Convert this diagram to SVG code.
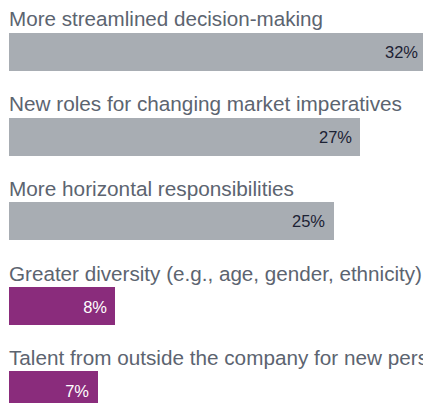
<svg xmlns="http://www.w3.org/2000/svg" width="423" height="403" viewBox="0 0 423 403">
<style>
.lbl{font-family:"Liberation Sans",Arial,sans-serif;font-size:20.5px;fill:#5c6470}
.pct{font-family:"Liberation Sans",Arial,sans-serif;font-size:16.5px;text-anchor:end}
.dk{fill:#1c2234}
.wt{fill:#ffffff}
.gray{fill:#a8adb3}
.purple{fill:#8a2c7c}
</style>
<rect width="423" height="403" fill="#ffffff"/>
<g id="row1">
<text class="lbl" x="9" y="26" textLength="314" lengthAdjust="spacingAndGlyphs">More streamlined decision-making</text>
<rect class="gray" x="9" y="33" width="414" height="38"/>
<text class="pct dk" x="418" y="58">32%</text>
</g>
<g id="row2">
<text class="lbl" x="9" y="111" textLength="393" lengthAdjust="spacingAndGlyphs">New roles for changing market imperatives</text>
<rect class="gray" x="9" y="118" width="351" height="38"/>
<text class="pct dk" x="352" y="143">27%</text>
</g>
<g id="row3">
<text class="lbl" x="9" y="196" textLength="285" lengthAdjust="spacingAndGlyphs">More horizontal responsibilities</text>
<rect class="gray" x="9" y="202" width="325" height="38"/>
<text class="pct dk" x="325" y="227">25%</text>
</g>
<g id="row4">
<text class="lbl" x="9" y="281" textLength="413" lengthAdjust="spacingAndGlyphs">Greater diversity (e.g., age, gender, ethnicity)</text>
<rect class="purple" x="9" y="287" width="106" height="38"/>
<text class="pct wt" x="107" y="313">8%</text>
</g>
<g id="row5">
<text class="lbl" x="9" y="365" textLength="419" lengthAdjust="spacingAndGlyphs">Talent from outside the company for new pers</text>
<rect class="purple" x="9" y="371" width="89" height="38"/>
<text class="pct wt" x="89" y="397">7%</text>
</g>
<g id="connectors"/>
</svg>
